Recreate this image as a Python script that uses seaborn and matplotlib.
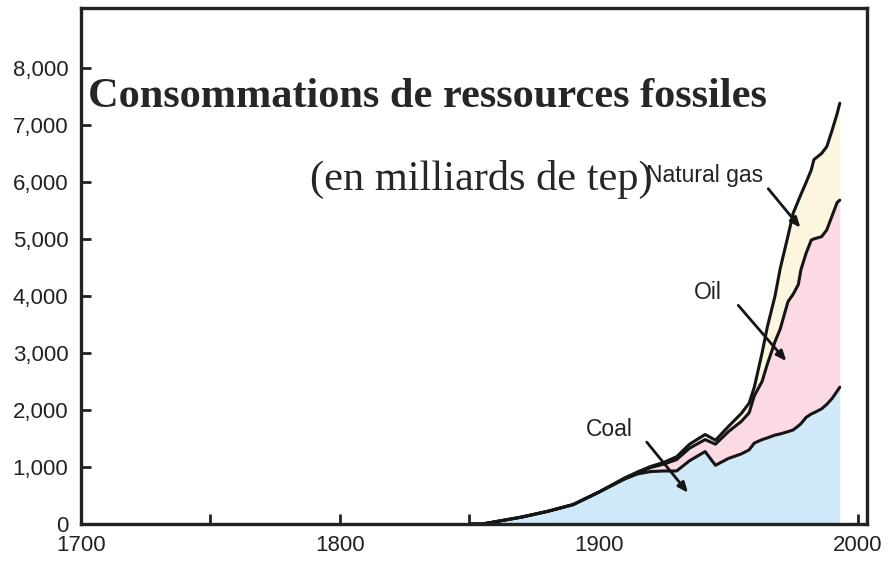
import numpy as np
import pandas as pd
import matplotlib
matplotlib.use("Agg")
import matplotlib.pyplot as plt
from matplotlib.ticker import FuncFormatter, MultipleLocator, FixedLocator
import seaborn as sns

# consommation mondiale par source (Mtep)
years = [1850, 1855, 1860, 1870, 1880, 1890, 1900, 1910, 1915, 1920, 1925, 1930,
         1935, 1941, 1945, 1950, 1955, 1958, 1960, 1963, 1965, 1968, 1970, 1973,
         1975, 1977, 1978, 1980, 1982, 1983, 1986, 1988, 1990, 1992, 1993]
coal = [0, 0, 40, 120, 220, 340, 560, 790, 880, 920, 930, 930,
        1110, 1270, 1030, 1150, 1230, 1300, 1420, 1480, 1510, 1560, 1580, 1620,
        1650, 1720, 1760, 1870, 1930, 1950, 2020, 2100, 2200, 2330, 2400]
oil = [0, 0, 0, 0, 0, 0, 0, 10, 20, 70, 120, 200,
       220, 210, 370, 470, 570, 650, 830, 1020, 1290, 1640, 1840, 2280,
       2380, 2480, 2700, 2880, 3050, 3050, 3020, 3060, 3200, 3310, 3280]
gas = [0, 0, 0, 0, 0, 0, 0, 10, 15, 20, 30, 50,
       70, 90, 70, 90, 140, 170, 150, 500, 650, 800, 1060, 1150,
       1420, 1470, 1320, 1240, 1230, 1390, 1460, 1460, 1500, 1560, 1700]

fills = ["#cfe9f8", "#fcdae4", "#fdf6de"]
y_ticks = [0, 1000, 2000, 3000, 4000, 5000, 6000, 7000, 8000]

# etiquettes + fleches (position du texte, debut et fin de fleche)
notes = {
    "Natural gas": ((1940.9, 6105), (1964.7, 5918), (1978.5, 5158)),
    "Oil": ((1942.1, 4053), (1953.1, 3872), (1973.1, 2819)),
    "Coal": ((1903.9, 1650), (1917.8, 1474), (1935.1, 509)),
}

sns.set_style("ticks")
plt.rcParams["font.family"] = ["Liberation Sans", "DejaVu Sans"]

df = pd.DataFrame({"year": years, "coal": coal, "oil": oil, "gas": gas})
df["oil_top"] = df["coal"] + df["oil"]
df["gas_top"] = df["oil_top"] + df["gas"]

fig = plt.figure(figsize=(8.88, 5.64), dpi=100)
ax = fig.add_axes([0.0912, 0.0709, 0.8851, 0.9149])

ax.stackplot(df["year"], df["coal"], df["oil"], df["gas"], colors=fills, linewidth=0)
for col in ["coal", "oil_top", "gas_top"]:
    sns.lineplot(data=df, x="year", y=col, ax=ax, color="#151515", linewidth=2.2)

for txt, (pos, start, end) in notes.items():
    ax.text(pos[0], pos[1], txt, fontsize=16.5, ha="center", va="center", color="#222222")
    ax.annotate("", xy=end, xytext=start,
                arrowprops=dict(arrowstyle="-|>,head_length=0.6,head_width=0.25",
                                color="#151515", lw=2))

ax.set_xlim(1700, 2003.5)
ax.set_ylim(0, 9050)
ax.xaxis.set_major_locator(MultipleLocator(50))
ax.yaxis.set_major_locator(FixedLocator(y_ticks))
ax.xaxis.set_major_formatter(FuncFormatter(lambda v, p: f"{int(v)}" if int(v) % 100 == 0 else ""))
ax.yaxis.set_major_formatter(FuncFormatter(lambda v, p: f"{int(v):,}"))
ax.tick_params(direction="in", length=7, width=2, labelsize=16, color="#222222",
               labelcolor="#222222")
ax.tick_params(axis="y", pad=9)
ax.tick_params(axis="x", pad=8)
ax.set_xlabel("")
ax.set_ylabel("")
for s in ax.spines.values():
    s.set_visible(True)
    s.set_linewidth(2.4)
    s.set_color("#222222")

fig.text(0.099, 0.828, "Consommations de ressources fossiles", fontsize=30.5,
         fontweight="bold", family=["Liberation Serif"], va="center", ha="left")
fig.text(0.349, 0.681, "(en milliards de tep)", fontsize=30.5,
         family=["Liberation Serif"], va="center", ha="left")

fig.savefig("out.png", dpi=100)
